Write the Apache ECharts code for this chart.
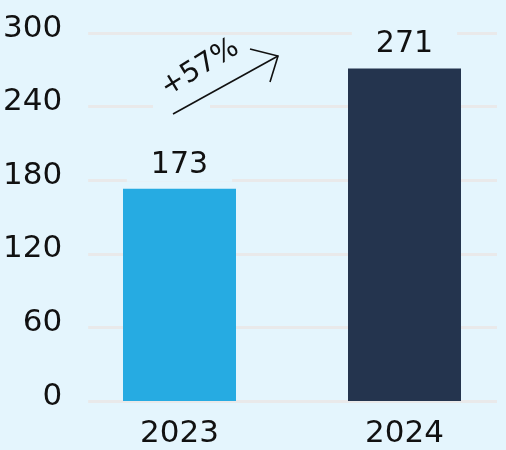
<!DOCTYPE html>
<html><head><meta charset="utf-8">
<script src="https://cdn.jsdelivr.net/npm/echarts@6/dist/echarts.min.js"></script>
<style>html,body{margin:0;padding:0;background:#e4f5fd;}#c{width:506px;height:450px;}</style>
</head><body><div id="c"></div>
<script>
const categories = ['2023', '2024'];
const values = [173, 271];
const barColors = ['#26abe2', '#24344e'];
const yTicks = [0, 60, 120, 180, 240, 300];
const growthLabel = '+57%';

const BG = '#e4f5fd';
const FONT = '"DejaVu Sans", sans-serif';
const chart = echarts.init(document.getElementById('c'), null, {renderer: 'canvas'});
chart.setOption({
  backgroundColor: BG,
  animation: false,
  grid: [
    {left: 88, right: 9, top: 33, bottom: 49},
    {left: 179.5, right: 101.5, top: 33, bottom: 49}
  ],
  xAxis: [
    {gridIndex: 0, type: 'value', show: false, min: 0, max: 1},
    {gridIndex: 1, type: 'category', data: categories, boundaryGap: false,
     axisLine: {show: false}, axisTick: {show: false},
     axisLabel: {fontFamily: FONT, fontSize: 31, color: '#111', margin: 17}}
  ],
  yAxis: [
    {gridIndex: 0, type: 'value', min: yTicks[0], max: yTicks[yTicks.length - 1], interval: 60,
     axisLine: {show: false}, axisTick: {show: false},
     axisLabel: {fontFamily: FONT, fontSize: 31, color: '#111', margin: 26,
                 verticalAlign: 'bottom', lineHeight: 9},
     splitLine: {lineStyle: {color: '#e9e9ea', width: 3}}},
    {gridIndex: 1, type: 'value', min: 0, max: 300, show: false}
  ],
  series: [{
    type: 'bar',
    xAxisIndex: 1, yAxisIndex: 1,
    barWidth: 113,
    data: values.map((v, i) => ({value: v, itemStyle: {color: barColors[i]}})),
    label: {
      show: true, position: 'top', distance: 7,
      fontFamily: FONT, fontSize: 30, color: '#111',
      backgroundColor: BG, padding: [2, 24]
    }
  }],
  graphic: [
    {type: 'rect', z: 10, shape: {x: 153, y: 100, width: 57, height: 12}, style: {fill: BG}},
    {type: 'line', z: 11, shape: {x1: 173, y1: 114, x2: 278, y2: 56}, style: {stroke: '#111', lineWidth: 1.6}},
    {type: 'polyline', z: 11, shape: {points: [[250, 49], [278, 56], [270, 82]]}, style: {stroke: '#111', lineWidth: 1.6, fill: null}},
    {type: 'text', z: 11, x: 200, y: 68, rotation: 0.55,
     style: {text: growthLabel, font: '28px ' + FONT, fill: '#111', align: 'center', verticalAlign: 'middle'}}
  ]
});
</script></body></html>
